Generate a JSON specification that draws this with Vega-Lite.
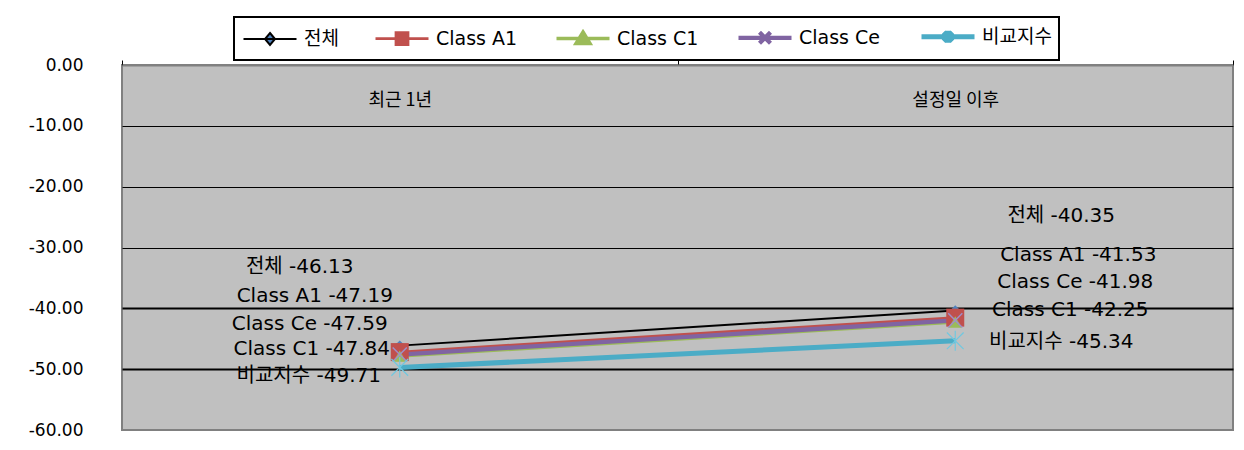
{
  "$schema": "https://vega.github.io/schema/vega-lite/v6.json",
  "width": 1111,
  "height": 365,
  "autosize": {"type": "none"},
  "padding": {"left": 122, "top": 65, "right": 11, "bottom": 20},
  "background": "#FFFFFF",
  "config": {
    "view": {"fill": "#C0C0C0", "stroke": "#808080", "strokeWidth": 2},
    "text": {"font": "DejaVu Sans, Noto Sans CJK KR", "fontSize": 20, "color": "#000000"}
  },
  "data": {
    "values": [
      {"period": "최근 1년", "series": "전체", "value": -46.13},
      {"period": "설정일 이후", "series": "전체", "value": -40.35},
      {"period": "최근 1년", "series": "Class A1", "value": -47.19},
      {"period": "설정일 이후", "series": "Class A1", "value": -41.53},
      {"period": "최근 1년", "series": "Class C1", "value": -47.84},
      {"period": "설정일 이후", "series": "Class C1", "value": -42.25},
      {"period": "최근 1년", "series": "Class Ce", "value": -47.59},
      {"period": "설정일 이후", "series": "Class Ce", "value": -41.98},
      {"period": "최근 1년", "series": "비교지수", "value": -49.71},
      {"period": "설정일 이후", "series": "비교지수", "value": -45.34}
    ]
  },
  "transform": [
    {"calculate": "datum.series + ' ' + replace(format(datum.value, '.2f'), '−', '-')", "as": "label"}
  ],
  "encoding": {
    "x": {
      "field": "period", "type": "nominal", "sort": ["최근 1년", "설정일 이후"],
      "scale": {"type": "band", "paddingInner": 0, "paddingOuter": 0},
      "axis": {
        "orient": "top", "title": null, "labelAngle": 0, "tickBand": "extent",
        "ticks": true, "tickSize": 5, "tickColor": "#000000", "domainColor": "#808080", "domainWidth": 2,
        "labelPadding": -40, "labelBaseline": "middle", "labelFont": "Noto Sans CJK KR", "labelFontSize": 18,
        "labelColor": "#000000", "grid": false
      }
    },
    "y": {
      "field": "value", "type": "quantitative",
      "scale": {"domain": [-60, 0], "nice": false, "zero": false},
      "axis": {
        "title": null, "values": [0, -10, -20, -30, -40, -50, -60], "format": ".2f",
        "labelExpr": "replace(datum.label, '−', '-')",
        "ticks": false, "domain": false, "labelPadding": 39, "labelFont": "DejaVu Sans", "labelFontSize": 17,
        "labelColor": "#000000", "grid": true, "gridColor": "#000000",
        "gridWidth": {"condition": {"test": "datum.value <= -40", "value": 2}, "value": 1},
        "gridOpacity": {"condition": {"test": "datum.value === 0 || datum.value === -60", "value": 0}, "value": 1}
      }
    }
  },
  "layer": [
    {
      "mark": {"type": "line"},
      "encoding": {
        "color": {
          "field": "series", "type": "nominal",
          "scale": {"domain": ["전체", "Class A1", "Class C1", "Class Ce", "비교지수"], "range": ["#000000", "#C0504D", "#9BBB59", "#8064A2", "#4BACC6"]},
          "legend": {
            "orient": "none", "legendX": 112, "legendY": -48, "direction": "horizontal", "columns": 5,
            "title": null, "fillColor": "#FFFFFF", "strokeColor": "#000000", "padding": 7,
            "symbolSize": 400, "symbolType": "stroke", "symbolStrokeWidth": 4, "labelOffset": 38,
            "columnPadding": 31, "labelFont": "DejaVu Sans, Noto Sans CJK KR", "labelFontSize": 19, "labelColor": "#000000",
            "encode": {
              "legend": {"update": {"strokeWidth": {"value": 2}}},
              "symbols": {
                "update": {
                  "shape": {"signal": "datum.value === '전체' ? 'M-1,0L4.3,0M1.65,-0.6L2.15,0L1.65,0.6L1.15,0Z' : datum.value === 'Class A1' ? 'M-1,0L4.3,0M1.05,-0.6L2.25,-0.6L2.25,0.6L1.05,0.6Z' : datum.value === 'Class C1' ? 'M-1,0L4.3,0M1.65,-0.65L2.35,0.5L0.95,0.5Z' : datum.value === 'Class Ce' ? 'M-1,0L4.3,0M1.1,-0.55L2.2,0.55M1.1,0.55L2.2,-0.55' : 'M-1,0L4.3,0M1.2,-0.45L2.1,0.45M1.2,0.45L2.1,-0.45M1.65,-0.6L1.65,0.6'"},
                  "fill": {"signal": "datum.value === '전체' ? '#4F81BD' : datum.value === 'Class A1' ? '#C0504D' : datum.value === 'Class C1' ? '#9BBB59' : 'transparent'"},
                  "stroke": {"signal": "datum.value === '전체' ? '#000000' : datum.value === 'Class A1' ? '#C0504D' : datum.value === 'Class C1' ? '#9BBB59' : datum.value === 'Class Ce' ? '#8064A2' : '#4BACC6'"},
                  "strokeWidth": {"signal": "datum.value === '전체' ? 2 : datum.value === '비교지수' ? 3 : 4"},
                  "opacity": {"value": 1}
                }
              }
            }
          }
        },
        "strokeWidth": {
          "field": "series", "type": "nominal",
          "scale": {"domain": ["전체", "Class A1", "Class C1", "Class Ce", "비교지수"], "range": [2, 5, 5, 5, 5]},
          "legend": null
        }
      }
    },
    {
      "transform": [{"filter": "datum.series === '전체'"}],
      "mark": {"type": "point", "shape": "diamond", "filled": true, "color": "#4F81BD", "size": 110, "opacity": 1}
    },
    {
      "transform": [{"filter": "datum.series === 'Class A1'"}],
      "mark": {"type": "point", "shape": "square", "filled": true, "color": "#C0504D", "size": 324, "opacity": 1}
    },
    {
      "transform": [{"filter": "datum.series === 'Class C1'"}],
      "mark": {"type": "point", "shape": "triangle-up", "filled": true, "color": "#9BBB59", "size": 170, "opacity": 1}
    },
    {
      "transform": [{"filter": "datum.series === 'Class Ce'"}],
      "mark": {"type": "point", "shape": "M-1,-1L1,1M-1,1L1,-1", "filled": false, "color": "#9F8FC9", "size": 200, "strokeWidth": 1.5, "opacity": 1}
    },
    {
      "transform": [{"filter": "datum.series === '비교지수'"}],
      "mark": {"type": "point", "shape": "M-1,-1L1,1M-1,1L1,-1M0,-1.2L0,1.2", "filled": false, "color": "#70C8E0", "size": 280, "strokeWidth": 1.2, "opacity": 1}
    },
    {
      "transform": [{"filter": "datum.series === '전체' && datum.period === '최근 1년'"}],
      "mark": {"type": "text", "dx": -100, "dy": -79},
      "encoding": {"text": {"field": "label"}}
    },
    {
      "transform": [{"filter": "datum.series === 'Class A1' && datum.period === '최근 1년'"}],
      "mark": {"type": "text", "dx": -85, "dy": -56},
      "encoding": {"text": {"field": "label"}}
    },
    {
      "transform": [{"filter": "datum.series === 'Class Ce' && datum.period === '최근 1년'"}],
      "mark": {"type": "text", "dx": -90, "dy": -31},
      "encoding": {"text": {"field": "label"}}
    },
    {
      "transform": [{"filter": "datum.series === 'Class C1' && datum.period === '최근 1년'"}],
      "mark": {"type": "text", "dx": -88, "dy": -7},
      "encoding": {"text": {"field": "label"}}
    },
    {
      "transform": [{"filter": "datum.series === '비교지수' && datum.period === '최근 1년'"}],
      "mark": {"type": "text", "dx": -91, "dy": 9},
      "encoding": {"text": {"field": "label"}}
    },
    {
      "transform": [{"filter": "datum.series === '전체' && datum.period === '설정일 이후'"}],
      "mark": {"type": "text", "dx": 106, "dy": -94},
      "encoding": {"text": {"field": "label"}}
    },
    {
      "transform": [{"filter": "datum.series === 'Class A1' && datum.period === '설정일 이후'"}],
      "mark": {"type": "text", "dx": 123, "dy": -63},
      "encoding": {"text": {"field": "label"}}
    },
    {
      "transform": [{"filter": "datum.series === 'Class Ce' && datum.period === '설정일 이후'"}],
      "mark": {"type": "text", "dx": 120, "dy": -38},
      "encoding": {"text": {"field": "label"}}
    },
    {
      "transform": [{"filter": "datum.series === 'Class C1' && datum.period === '설정일 이후'"}],
      "mark": {"type": "text", "dx": 115, "dy": -12},
      "encoding": {"text": {"field": "label"}}
    },
    {
      "transform": [{"filter": "datum.series === '비교지수' && datum.period === '설정일 이후'"}],
      "mark": {"type": "text", "dx": 106, "dy": 1},
      "encoding": {"text": {"field": "label"}}
    }
  ]
}
